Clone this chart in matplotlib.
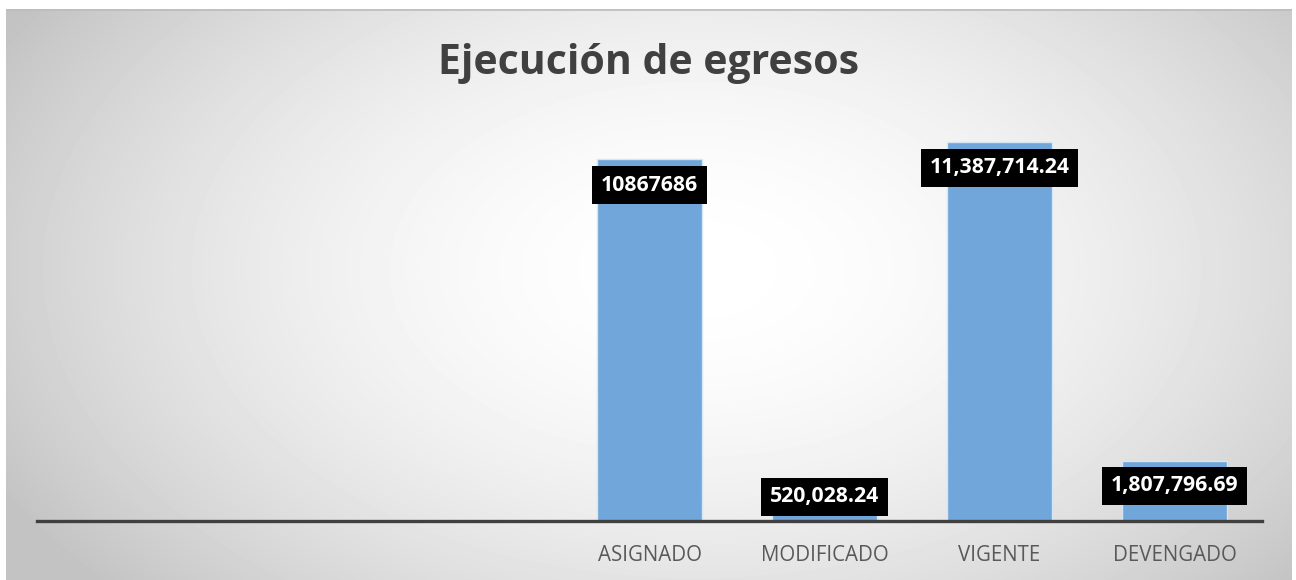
import numpy as np
import matplotlib.pyplot as plt

categories = ["", "", "", "ASIGNADO", "MODIFICADO", "VIGENTE", "DEVENGADO"]
values = [0, 0, 0, 10867686, 520028.24, 11387714.24, 1807796.69]
value_labels = ["", "", "", "10867686", "520,028.24", "11,387,714.24", "1,807,796.69"]

W, H = 1296, 580
fig = plt.figure(figsize=(W / 100, H / 100), dpi=100)
fig.patch.set_facecolor("white")

# radial grey background of the chart area
bg = fig.add_axes([6 / W, 0, 1286 / W, 571 / H])
bg.set_axis_off()
yy, xx = np.mgrid[0:571, 0:1286]
cx, cy, rx, ry = 690, 260, 720, 440
d = np.sqrt(((xx - cx) / rx) ** 2 + ((yy - cy) / ry) ** 2)
t = np.clip(d, 0, 1.1)
c = 1 - 0.2 * t ** 1.8
bg.imshow(c, cmap="gray", vmin=0, vmax=1, aspect="auto", interpolation="bilinear")
bg.plot([0, 1285], [0.5, 0.5], color="#bcbcbc", lw=1.2)

ymax = max(values)
top_px, base_px = 142, 521
ax = fig.add_axes([37 / W, (H - base_px) / H, (1262 - 37) / W, (base_px - 100) / H])
ax.patch.set_alpha(0)
scale = ymax / (base_px - top_px)
ax.set_ylim(0, ymax + scale * (top_px - 100))
x = np.arange(len(categories))
ax.set_xlim(-0.5, len(categories) - 0.5)
bars = ax.bar(x, values, width=0.6, color="#70a6d9", edgecolor="#d7e6f5", linewidth=1)

for s in ["top", "right", "left"]:
    ax.spines[s].set_visible(False)
ax.spines["bottom"].set_color("#404040")
ax.spines["bottom"].set_linewidth(2.4)
ax.set_yticks([])
ax.set_xticks(x)
ax.set_xticklabels(categories, fontsize=14.8, color="#595959", family="Open Sans")
ax.tick_params(axis="x", length=0, pad=17)

# label offsets in pixels relative to bar top
offsets = [0, 0, 0, -26, 7, -26, -25]
for xi, v, lab, off in zip(x, values, value_labels, offsets):
    if not lab:
        continue
    ax.annotate(lab, (xi, v), xytext=(0, off * 0.72), textcoords="offset points",
                ha="center", va="center", fontsize=15.3, fontweight="bold",
                color="white", family="Open Sans",
                bbox=dict(boxstyle="square,pad=0.4", fc="black", ec="none"))

fig.text(649 / W, 1 - 64 / H, "Ejecución de egresos", ha="center", va="center",
         fontsize=29.5, fontweight="bold", color="#404040", family="Open Sans")

fig.savefig("out.png", dpi=100)
